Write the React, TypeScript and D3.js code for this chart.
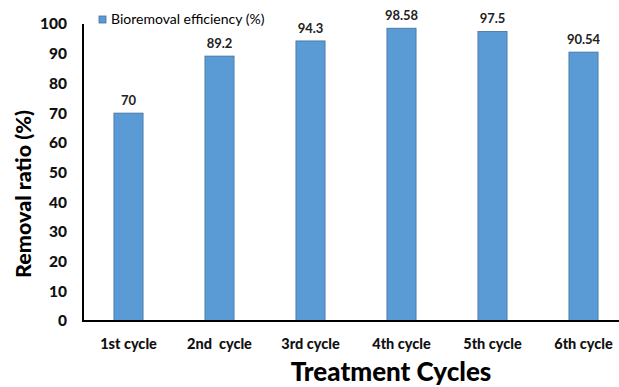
import React from "react";
import * as d3 from "d3";

const categories = ["1st cycle", "2nd  cycle", "3rd cycle", "4th cycle", "5th cycle", "6th cycle"];
const efficiency = [70, 89.2, 94.3, 98.58, 97.5, 90.54];
const valueLabels = ["70", "89.2", "94.3", "98.58", "97.5", "90.54"];
const yTicks = [0, 10, 20, 30, 40, 50, 60, 70, 80, 90, 100];
const seriesName = "Bioremoval efficiency (%)";

const W = 619;
const H = 387;
const FONT = "Lato, 'Open Sans', sans-serif";

export default function App() {
  const x = d3.scaleBand<string>().domain(categories).range([83, 629]).paddingInner(0.68).paddingOuter(0.34);
  const y = d3.scaleLinear().domain([0, 100]).range([321, 24]);
  const barColor = "#5B9BD5";
  const barStroke = "#41719C";

  return (
    <svg
      width={W}
      height={H}
      style={{ position: "absolute", left: 0, top: 0, background: "#fff" }}
      fontFamily={FONT}
    >
      {/* bars */}
      {categories.map((c, i) => (
        <rect
          key={c}
          x={x(c)!}
          y={y(efficiency[i])}
          width={x.bandwidth()}
          height={y(0) - y(efficiency[i])}
          fill={barColor}
          stroke={barStroke}
          strokeWidth={0.8}
        />
      ))}
      {/* value labels */}
      {categories.map((c, i) => (
        <text
          key={c + "-v"}
          x={x(c)! + x.bandwidth() / 2}
          y={y(efficiency[i]) - 8}
          textAnchor="middle"
          fontSize={13}
          fontWeight="bold"
          fill="#222"
        >
          {valueLabels[i]}
        </text>
      ))}
      {/* axes */}
      <line x1={83} x2={83} y1={y(100)} y2={y(0) + 1} stroke="#000" strokeWidth={2} />
      <line x1={82} x2={W} y1={y(0)} y2={y(0)} stroke="#000" strokeWidth={2} />
      {yTicks.map((t) => (
        <text
          key={t}
          x={67}
          y={y(t)}
          dy="0.35em"
          textAnchor="end"
          fontSize={15.5}
          fontWeight={900}
          fill="#111"
        >
          {t}
        </text>
      ))}
      {categories.map((c) => (
        <text
          key={c + "-x"}
          x={x(c)! + x.bandwidth() / 2}
          y={349}
          textAnchor="middle"
          fontSize={14.5}
          fontWeight={900}
          fill="#111"
          style={{ whiteSpace: "pre" }}
        >
          {c}
        </text>
      ))}
      {/* axis titles */}
      <text
        x={391}
        y={381}
        textAnchor="middle"
        fontSize={26}
        fontWeight={900}
        fill="#000"
      >
        Treatment Cycles
      </text>
      <text
        transform={`translate(31, 194) rotate(-90)`}
        textAnchor="middle"
        fontSize={21.5}
        fontWeight={900}
        fill="#000"
      >
        Removal ratio (%)
      </text>
      {/* legend */}
      <rect x={99} y={16} width={7} height={7} fill={barColor} stroke={barStroke} strokeWidth={0.8} />
      <text x={111} y={24} fontSize={14} fill="#000">
        {seriesName}
      </text>
    </svg>
  );
}
